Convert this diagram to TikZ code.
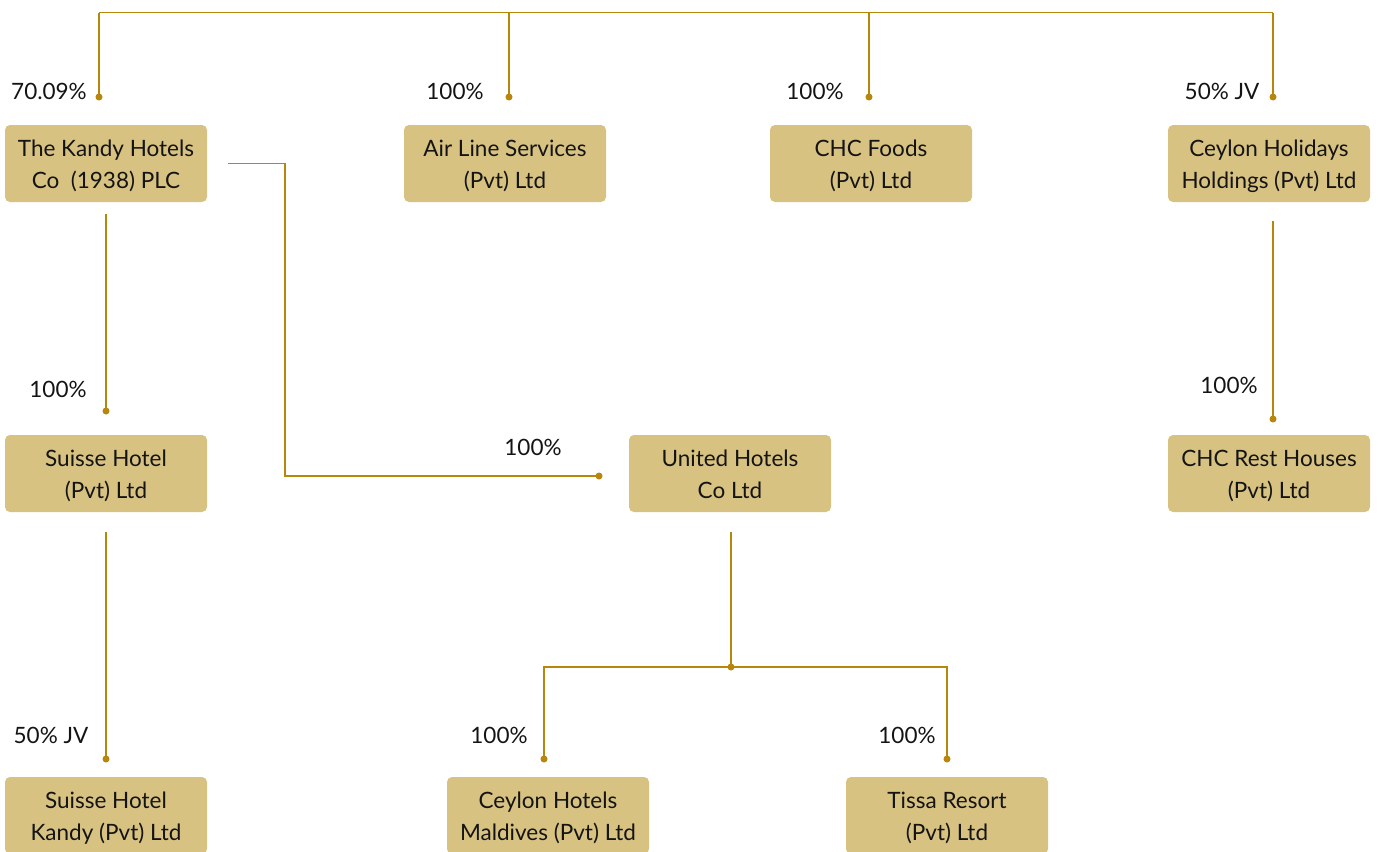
\documentclass[tikz,border=0pt]{standalone}
\usepackage{fontspec}
\setmainfont{Lato}
\usetikzlibrary{positioning}

\definecolor{boxfill}{RGB}{215,194,129}
\definecolor{linkcol}{RGB}{184,134,11}
\definecolor{txtcol}{RGB}{20,20,20}

\tikzset{
  company/.style={fill=boxfill, rounded corners=5pt, minimum width=202pt, minimum height=77pt,
    inner sep=0pt, align=center, text=txtcol, font=\fontsize{22.5}{32}\selectfont,
    text height=54.5pt, text depth=5.5pt},
  share/.style={inner sep=0pt, text=txtcol, font=\fontsize{22.5}{26}\selectfont},
  link/.style={draw=linkcol, line width=1.5pt},
  bus/.style={draw=linkcol, line width=1pt},
  dot/.style={fill=linkcol}
}

\begin{document}
\begin{tikzpicture}[x=1pt,y=1pt,yscale=-1]
\useasboundingbox (0,0) rectangle (1378,851);

% Company boxes
\node[company] (kandy) at (106,163.5) {The Kandy Hotels\\Co\ \ (1938) PLC};
\node[company] (airline) at (505,163.5) {Air Line Services\\(Pvt) Ltd};
\node[company] (foods) at (871,163.5) {CHC Foods\\(Pvt) Ltd};
\node[company] (holidays) at (1269,163.5) {Ceylon Holidays\\Holdings (Pvt) Ltd};
\node[company] (suisse) at (106,473.5) {Suisse Hotel\\(Pvt) Ltd};
\node[company] (united) at (730,473.5) {United Hotels\\Co Ltd};
\node[company] (rest) at (1269,473.5) {CHC Rest Houses\\(Pvt) Ltd};
\node[company] (skandy) at (106,815.5) {Suisse Hotel\\Kandy (Pvt) Ltd};
\node[company] (maldives) at (548,815.5) {Ceylon Hotels\\Maldives (Pvt) Ltd};
\node[company] (tissa) at (947,815.5) {Tissa Resort\\(Pvt) Ltd};

% End points of the links
\coordinate (bus) at (0,13);
\coordinate (dKandy) at (99,97);
\coordinate (dAir) at (509,97);
\coordinate (dFoods) at (869,97);
\coordinate (dHol) at (1273,97);
\coordinate (kandyOut) at ([xshift=21pt]kandy.east);
\coordinate (kandyDown) at ([yshift=12pt]kandy.south);
\coordinate (dSuisse) at (106,411);
\coordinate (dUnited) at (599,476);
\coordinate (suisseDown) at ([yshift=20pt]suisse.south);
\coordinate (dSKandy) at (106,759);
\coordinate (unitedDown) at ([xshift=1pt,yshift=20pt]united.south);
\coordinate (dSplit) at (731,667);
\coordinate (dMald) at (544,759);
\coordinate (dTissa) at (947,759);
\coordinate (holDown) at ([xshift=4pt,yshift=19pt]holidays.south);
\coordinate (dRest) at (1273,419);

% Top bus
\draw[bus] (dKandy |- bus) -- (dHol |- bus);
\foreach \d in {dKandy,dAir,dFoods,dHol}
  \draw[link] (\d |- bus) -- (\d);

% Links
\draw[link] (kandyOut) -- ++(57,0) |- (dUnited);
\draw[link] (kandyDown) -- (dSuisse);
\draw[link] (suisseDown) -- (dSKandy);
\draw[link] (unitedDown) -- (dSplit);
\draw[link] (dMald) |- (dSplit) -| (dTissa);
\draw[link] (holDown) -- (dRest);

% Dots
\foreach \d in {dKandy,dAir,dFoods,dHol,dSuisse,dUnited,dSKandy,dSplit,dMald,dTissa,dRest}
  \fill[dot] (\d) circle (3.5pt);

% Share labels
\node[share] (lKandy) at (49,91) {70.09\%};
\node[share] (lAir) at (455,91) {100\%};
\node[share] (lFoods) at (815,91) {100\%};
\node[share] (lHol) at (1222,91) {50\% JV};
\node[share] (lSuisse) at (58,389) {100\%};
\node[share] (lUnited) at (533,447) {100\%};
\node[share] (lRest) at (1229,385) {100\%};
\node[share] (lSKandy) at (51,735) {50\% JV};
\node[share] (lMald) at (499,735) {100\%};
\node[share] (lTissa) at (907,735) {100\%};

\end{tikzpicture}
\end{document}
